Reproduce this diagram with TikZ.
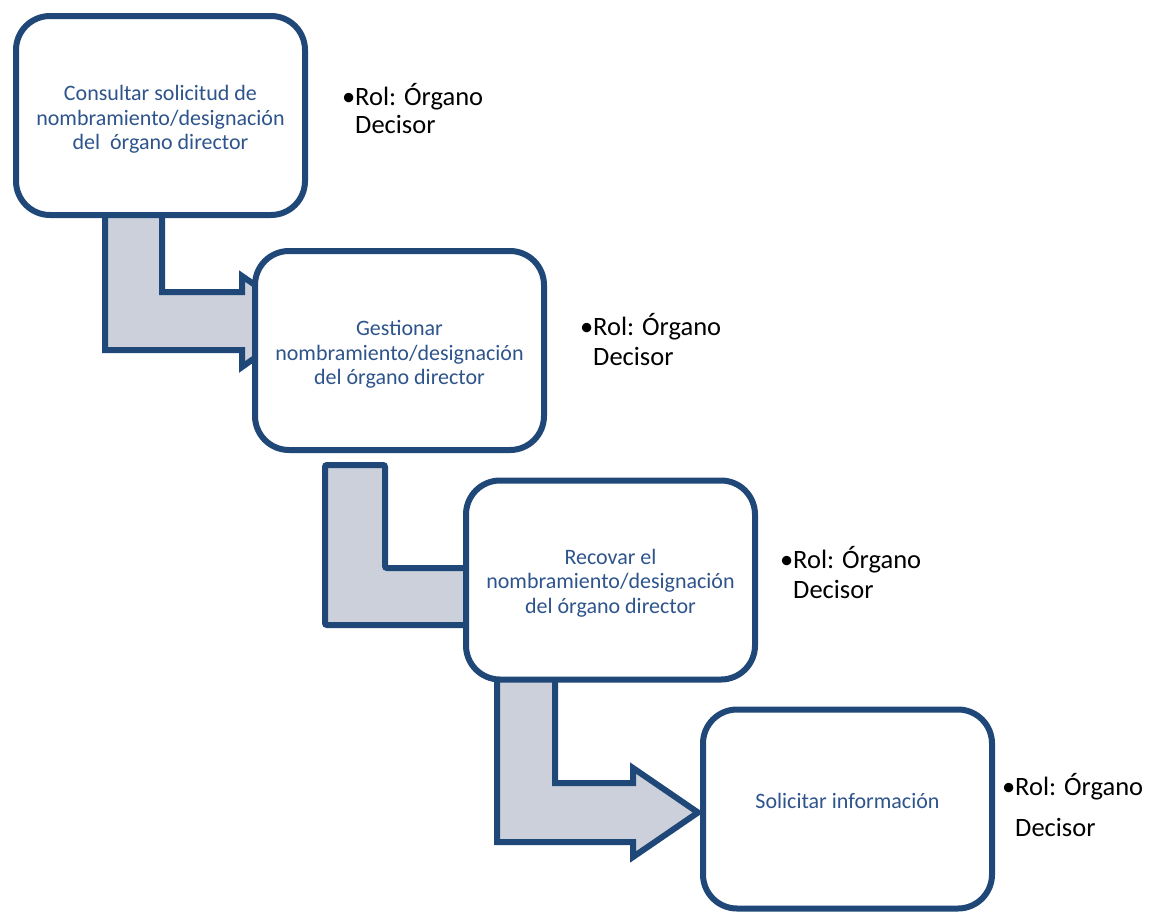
\documentclass[tikz,border=0pt]{standalone}
\usepackage{fontspec}
\setmainfont{Carlito}
\definecolor{edge}{RGB}{31,71,120}
\definecolor{txtblue}{RGB}{46,84,140}
\definecolor{arrowfill}{RGB}{203,208,218}
\tikzset{
  stepbox/.style={draw=edge, line width=6pt, fill=white, rounded corners=34pt,
    minimum width=289pt, minimum height=199pt, inner sep=0pt},
  steptext/.style={align=center, inner sep=0pt, text=txtblue,
    font=\fontsize{22}{24.5}\selectfont},
  blockarrow/.style={draw=edge, line width=6pt, fill=arrowfill, line join=miter},
  role/.style={anchor=base west, inner sep=0pt, align=left, text=black}
}
\begin{document}
\begin{tikzpicture}[x=1pt,y=-1pt]
\useasboundingbox (0,0) rectangle (1151,911);
% block arrows
\draw[blockarrow] (105,200) -- (105,350) -- (242,350) -- (242,367) -- (307,321) -- (242,276) -- (242,292) -- (162,292) -- (162,200) -- cycle;
\draw[blockarrow, rounded corners=2pt] (325,465) -- (325,625) -- (480,625) -- (480,640) -- (540,596) -- (480,553) -- (480,568) -- (385,568) -- (385,465) -- cycle;
\draw[blockarrow] (497,670) -- (497,842) -- (633,842) -- (633,857) -- (698,812.5) -- (633,768) -- (633,783) -- (555,783) -- (555,670) -- cycle;
% boxes
\node[stepbox] (b1) at (160.5,115.5) {};
\node[stepbox] (b2) at (399.5,350.5) {};
\node[stepbox] (b3) at (610.5,580) {};
\node[stepbox] (b4) at (847.5,809) {};
\node[steptext] (t1) at ([yshift=-4pt]b1.center) {Consultar solicitud de\\nombramiento/designación\\del\ \ órgano director};
\node[steptext] (t2) at ([yshift=-4pt]b2.center) {Gestionar\\nombramiento/designación\\del órgano director};
\node[steptext] (t3) at ([yshift=-3pt]b3.center) {Recovar el\\nombramiento/designación\\del órgano director};
\node[steptext] (t4) at ([yshift=8pt]b4.center) {Solicitar información};
% roles
\node[role, font=\fontsize{26.5}{28}\selectfont] (r1) at (355,133) {\llap{•}Rol: Órgano\\Decisor};
\node[role, font=\fontsize{26.5}{30}\selectfont] (r2) at (593,365) {\llap{•}Rol: Órgano\\Decisor};
\node[role, font=\fontsize{26.5}{30}\selectfont] (r3) at (793,598) {\llap{•}Rol: Órgano\\Decisor};
\node[role, font=\fontsize{26.5}{41}\selectfont] (r4) at (1015,836) {\llap{•}Rol: Órgano\\Decisor};
\end{tikzpicture}
\end{document}
